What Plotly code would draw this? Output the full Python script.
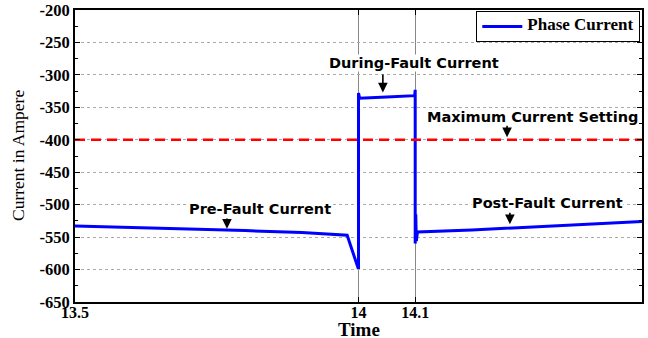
import plotly.graph_objects as go

# Phase current waveform (time in s, current in A)
time = [13.5, 13.6, 13.7, 13.8, 13.9, 13.98, 13.999, 14.0, 14.0, 14.002, 14.05, 14.099,
        14.1, 14.1, 14.101, 14.102, 14.104, 14.2, 14.3, 14.4, 14.5]
current = [-533, -535, -538, -540, -543, -547, -597, -597, -328, -336, -334, -332,
           -323, -560, -515, -556, -542, -539, -535, -530, -526]

setting_time = [13.5, 14.5]
setting_value = [-400, -400]

x_ticks = [13.5, 14, 14.1, 14.5]
x_ticklabels = ["13.5", "14", "14.1", "14.5"]
y_ticks = [-200, -250, -300, -350, -400, -450, -500, -550, -600, -650]

x_title = "Time"
y_title = "Current in Ampere"

# annotations: (label, text_x, text_y, arrow_x, arrow_tail_y, arrow_head_y)
notes = [
    ("During-Fault Current", 14.098, -282, 14.043, -297, -327),
    ("Maximum Current Setting", 14.306, -365, 14.262, -376, -396),
    ("Pre-Fault Current", 13.826, -507, 13.768, -519, -537),
    ("Post-Fault Current", 14.334, -497, 14.267, -510, -530),
]

fig = go.Figure()
fig.add_trace(go.Scatter(x=time, y=current, mode="lines",
                         name='<b><span style="font-size:17px">Phase Current</span></b>',
                         line=dict(color="#0000ff", width=3)))
fig.add_trace(go.Scatter(x=setting_time, y=setting_value, mode="lines", showlegend=False,
                         line=dict(color="#ff0000", width=2.5, dash="10px,6px")))

for label, tx, ty, axx, ay_tail, ay_head in notes:
    fig.add_annotation(x=tx, y=ty, text="<b>" + label + "</b>", showarrow=False, bgcolor="white",
                       font=dict(family="DejaVu Sans", size=14.5, color="black"),
                       borderpad=0)
    fig.add_annotation(x=axx, y=ay_head, ax=axx, ay=ay_tail, axref="x", ayref="y",
                       xref="x", yref="y", text="", showarrow=True,
                       arrowhead=2, arrowsize=1.2, arrowwidth=1.6, arrowcolor="black")

# axis titles
fig.add_annotation(x=0.5, y=-0.093, xref="paper", yref="paper", text="<b>" + x_title + "</b>",
                   showarrow=False, xanchor="center", yanchor="middle",
                   font=dict(family="Liberation Serif", size=19, color="black"))
fig.add_annotation(x=-0.1005, y=0.5, xref="paper", yref="paper", text=y_title,
                   showarrow=False, xanchor="center", yanchor="middle", textangle=-90,
                   font=dict(family="Liberation Serif", size=17.5, color="black"))

tickfont = dict(family="Liberation Serif", size=16.5, color="black")
fig.update_layout(
    width=648, height=338,
    margin=dict(l=75, r=6, t=10, b=36, autoexpand=False),
    paper_bgcolor="white", plot_bgcolor="white",
    showlegend=True,
    legend=dict(x=0.997, y=0.997, xanchor="right", yanchor="top",
                bordercolor="black", borderwidth=1, bgcolor="white",
                font=dict(family="Liberation Serif", size=9, color="black"),
                tracegroupgap=0, itemwidth=40),
    xaxis=dict(range=[13.5, 14.5], tickvals=x_ticks,
               ticktext=["<b>" + t + "</b>" for t in x_ticklabels],
               showgrid=True, gridcolor="#888888", gridwidth=1,
               ticks="inside", ticklen=5, tickcolor="black",
               showline=True, linecolor="black", linewidth=2, mirror="ticks",
               tickfont=dict(family="Liberation Serif", size=16, color="black"),
               ticklabelstandoff=-5,
               zeroline=False, automargin=False),
    yaxis=dict(range=[-650, -200], tickvals=y_ticks,
               ticktext=["<b>%d</b>" % v for v in y_ticks],
               showgrid=True, gridcolor="#aaaaaa", gridwidth=1, griddash="dot",
               ticks="inside", ticklen=5, tickcolor="black",
               minor=dict(ticks="inside", ticklen=3, dtick=25, tickcolor="black", showgrid=False),
               showline=True, linecolor="black", linewidth=2, mirror="ticks",
               tickfont=tickfont, zeroline=False, automargin=False),
)

fig.write_html("out.html")
